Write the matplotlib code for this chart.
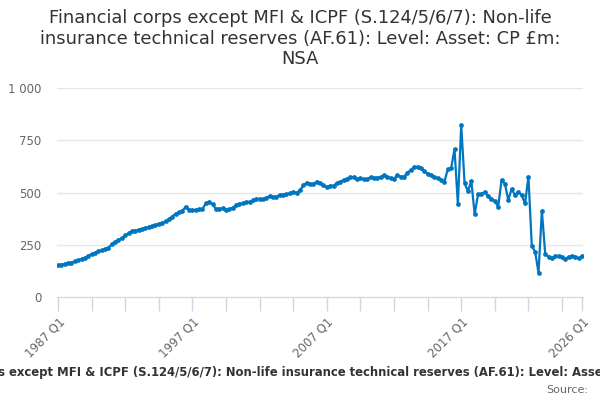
import matplotlib.pyplot as plt
import numpy as np

# quarterly series, 1987 Q1 .. 2026 Q1 (£m)
values = [
    152, 155, 158, 162, 165, 170, 175, 182, 188, 197,
    205, 212, 218, 223, 228, 236, 252, 265, 272, 282,
    295, 305, 315, 318, 322, 326, 330, 335, 340, 345,
    350, 355, 362, 372, 385, 398, 405, 412, 432, 418,
    416, 417, 419, 422, 448, 456, 443, 422, 422, 424,
    418, 419, 428, 438, 446, 448, 454, 456, 462, 470,
    469, 468, 476, 482, 478, 480, 489, 490, 491, 496,
    502, 499, 510, 534, 547, 541, 541, 552, 544, 536,
    524, 533, 533, 544, 552, 560, 566, 573, 573, 563,
    568, 563, 563, 573, 571, 571, 573, 582, 576, 569,
    566, 582, 576, 576, 595, 608, 621, 624, 616, 603,
    589, 584, 576, 568, 562, 552, 611, 616, 708, 445,
    823, 544, 507, 555, 396, 491, 493, 502, 481, 469,
    459, 432, 558, 542, 464, 517, 488, 504, 486, 448,
    576, 244, 217, 115, 413, 206, 193, 185, 196, 197,
    190, 182, 193, 197, 191, 185, 195,
]
tick_pos = list(range(0, 151, 10)) + [156]
label_pos = {0: '1987 Q1', 40: '1997 Q1', 80: '2007 Q1', 120: '2017 Q1', 156: '2026 Q1'}
y_ticks = [0, 250, 500, 750, 1000]
y_labels = ['0', '250', '500', '750', '1 000']

title = ("Financial corps except MFI & ICPF (S.124/5/6/7): Non-life\n"
         "insurance technical reserves (AF.61): Level: Asset: CP £m:\nNSA")
caption = ("Financial corps except MFI & ICPF (S.124/5/6/7): Non-life insurance "
           "technical reserves (AF.61): Level: Asset: CP £m: NSA")

fig = plt.figure(figsize=(6, 4), dpi=100)
ax = fig.add_axes([0.095, 0.2575, 0.877, 0.5225])

x = np.arange(len(values))
ax.plot(x, values, color='#0076c0', lw=1.6, marker='o', ms=2.4, zorder=3)

ax.set_xlim(-0.3, 156.3)
ax.set_ylim(0, 1000)
ax.set_yticks(y_ticks)
ax.set_yticklabels(y_labels)
ax.set_xticks(tick_pos)
ax.set_xticklabels([label_pos.get(p, '') for p in tick_pos],
                   rotation=45, ha='right', rotation_mode='anchor')

ax.grid(axis='y', color='#e6e6e6', lw=1)
ax.set_axisbelow(True)
for s in ['top', 'right', 'left']:
    ax.spines[s].set_visible(False)
ax.spines['bottom'].set_color('#ccd6eb')
ax.tick_params(axis='x', colors='#ccd6eb', length=10, width=1, labelcolor='#666666',
               labelsize=8.5, pad=3)
ax.tick_params(axis='y', length=0, labelcolor='#666666', labelsize=8.5, pad=11)

fig.text(0.5, 0.978, title, ha='center', va='top', fontsize=12.9, color='#333333',
         linespacing=1.2)
fig.text(0.5, 0.068, caption, ha='center', va='center', fontsize=8.35,
         fontweight='bold', color='#333333')
fig.text(0.98, 0.025, 'Source:', ha='right', va='center', fontsize=8, color='#666666')

fig.savefig('out.png', dpi=100)
